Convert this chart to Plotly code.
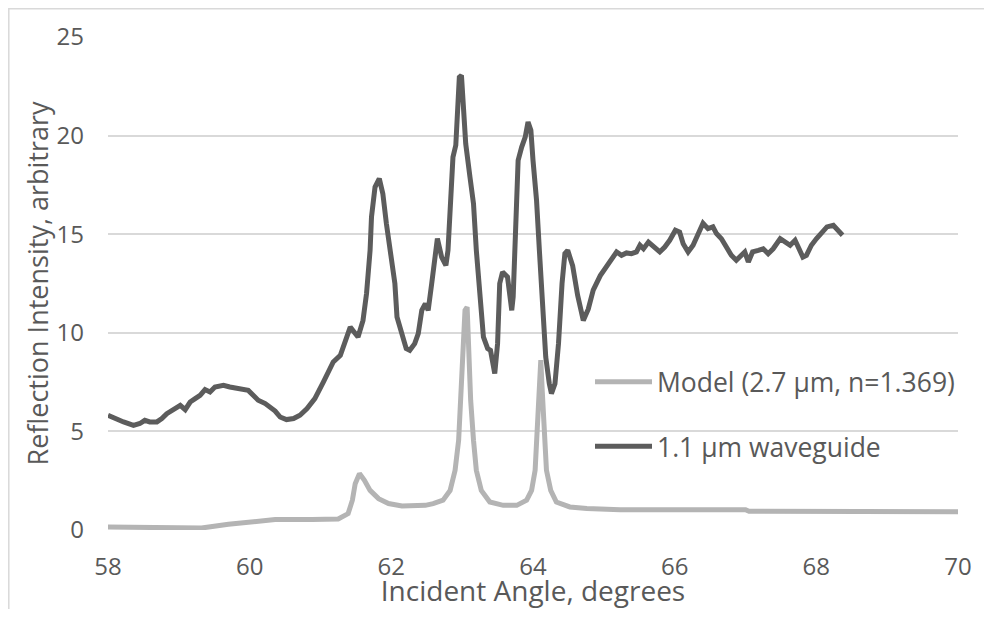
import plotly.graph_objects as go

# Measured waveguide reflection (1.1 µm waveguide)
wg_angle = [58.00, 58.10, 58.22, 58.36, 58.45, 58.52, 58.59, 58.69, 58.76, 58.83,
            58.92, 59.02, 59.09, 59.16, 59.23, 59.30, 59.37, 59.44, 59.51, 59.63,
            59.72, 59.82, 59.91, 59.98, 60.05, 60.12, 60.22, 60.29, 60.36, 60.43,
            60.52, 60.62, 60.71, 60.81, 60.92, 61.04, 61.18, 61.28, 61.42, 61.53,
            61.60, 61.65, 61.70, 61.72, 61.77, 61.83, 61.88, 61.93, 62.00, 62.05,
            62.08, 62.15, 62.21, 62.26, 62.33, 62.38, 62.43, 62.48, 62.52, 62.57,
            62.62, 62.65, 62.71, 62.77, 62.80, 62.83, 62.87, 62.91, 62.93, 62.96,
            62.99, 63.01, 63.05, 63.11, 63.16, 63.20, 63.25, 63.30, 63.36, 63.40,
            63.46, 63.50, 63.53, 63.57, 63.64, 63.70, 63.72, 63.76, 63.79, 63.84,
            63.89, 63.93, 63.97, 64.00, 64.05, 64.09, 64.14, 64.18, 64.23, 64.26,
            64.31, 64.36, 64.41, 64.45, 64.49, 64.56, 64.63, 64.71, 64.78, 64.85,
            64.95, 65.04, 65.11, 65.18, 65.25, 65.32, 65.39, 65.46, 65.51, 65.56,
            65.63, 65.70, 65.79, 65.86, 65.93, 66.01, 66.07, 66.12, 66.19, 66.26,
            66.33, 66.40, 66.47, 66.54, 66.59, 66.66, 66.73, 66.80, 66.87, 66.92,
            66.99, 67.04, 67.10, 67.18, 67.25, 67.32, 67.39, 67.49, 67.56, 67.63,
            67.70, 67.75, 67.81, 67.86, 67.93, 68.00, 68.08, 68.15, 68.24, 68.31,
            68.37]
wg_intensity = [5.82, 5.65, 5.48, 5.31, 5.40, 5.56, 5.48, 5.48, 5.65, 5.90,
                6.07, 6.32, 6.10, 6.49, 6.66, 6.83, 7.12, 7.00, 7.25, 7.34,
                7.25, 7.17, 7.12, 7.08, 6.83, 6.58, 6.41, 6.24, 6.03, 5.73,
                5.60, 5.65, 5.82, 6.16, 6.66, 7.50, 8.52, 8.86, 10.29, 9.79,
                10.63, 11.99, 14.18, 15.87, 17.39, 17.82, 17.06, 15.54, 13.84, 12.50,
                10.80, 9.96, 9.20, 9.11, 9.45, 9.96, 11.14, 11.48, 11.14, 12.50,
                13.84, 14.78, 13.84, 13.42, 14.18, 16.20, 18.91, 19.51, 21.27, 22.96,
                23.05, 21.45, 19.59, 17.90, 16.55, 14.18, 11.65, 9.79, 9.20, 9.11,
                7.93, 9.45, 12.50, 13.08, 12.83, 11.14, 11.82, 15.03, 18.75, 19.42,
                19.92, 20.69, 20.27, 18.75, 16.72, 14.18, 11.14, 8.77, 7.42, 6.92,
                7.42, 9.45, 12.50, 14.02, 14.18, 13.40, 11.90, 10.63, 11.20, 12.16,
                12.90, 13.34, 13.76, 14.10, 13.93, 14.05, 14.01, 14.10, 14.44, 14.26,
                14.60, 14.35, 14.10, 14.35, 14.69, 15.20, 15.11, 14.52, 14.10, 14.44,
                15.03, 15.56, 15.28, 15.37, 15.03, 14.77, 14.35, 13.93, 13.68, 13.84,
                14.10, 13.59, 14.10, 14.18, 14.26, 14.01, 14.26, 14.77, 14.60, 14.44,
                14.69, 14.35, 13.84, 13.93, 14.44, 14.77, 15.11, 15.37, 15.45, 15.20,
                14.95]

# Model curve (2.7 µm, n=1.369)
model_angle = [58.00, 58.52, 59.00, 59.32, 59.70, 60.08, 60.36, 60.88, 61.25, 61.39,
               61.45, 61.49, 61.55, 61.62, 61.70, 61.82, 61.96, 62.15, 62.48, 62.59,
               62.73, 62.83, 62.90, 62.95, 62.98, 63.01, 63.04, 63.07, 63.09, 63.12,
               63.16, 63.20, 63.27, 63.39, 63.58, 63.77, 63.91, 63.98, 64.03, 64.06,
               64.08, 64.11, 64.13, 64.16, 64.19, 64.25, 64.33, 64.52, 64.76, 65.23,
               66.00, 67.00, 67.05, 68.00, 70.00]
model_intensity = [0.15, 0.12, 0.07, 0.10, 0.29, 0.46, 0.53, 0.53, 0.56, 0.83,
                   1.51, 2.35, 2.86, 2.52, 2.01, 1.59, 1.34, 1.22, 1.25, 1.34,
                   1.51, 2.01, 3.03, 4.55, 6.58, 8.77, 11.14, 11.31, 8.77, 6.58,
                   4.55, 3.03, 2.01, 1.42, 1.25, 1.25, 1.51, 2.01, 3.03, 5.06,
                   7.08, 8.61, 7.08, 4.72, 3.03, 2.01, 1.42, 1.17, 1.09, 1.03,
                   1.05, 1.03, 0.95, 0.93, 0.93]

x_ticks = [58, 60, 62, 64, 66, 68, 70]
y_ticks = [0, 5, 10, 15, 20, 25]
x_title = "Incident Angle, degrees"
y_title = "Reflection Intensity, arbitrary"

TEXT = "#595959"
GRID = "#d9d9d9"
FONT = "Open Sans, Segoe UI, sans-serif"

fig = go.Figure()
fig.add_trace(go.Scatter(
    x=model_angle, y=model_intensity, mode="lines",
    name="Model (2.7 µm, n=1.369)", legendgroup="a",
    line=dict(color="#b4b4b4", width=5),
))
fig.add_trace(go.Scatter(
    x=wg_angle, y=wg_intensity, mode="lines",
    name="1.1 µm waveguide", legendgroup="b",
    line=dict(color="#5c5c5c", width=5),
))

# page has an 8px body margin; figure is sized to fit inside the window
OFF = 8
W, H = 992 - 2 * OFF, 617 - 2 * OFF
L, T = 108 - OFF, 37 - OFF
R = W - (958 - OFF)
B = H - (530 - OFF)
pw, ph = W - L - R, H - T - B


def px2x(px):
    return (px - OFF - L) / pw


def py2y(py):
    return (H - B - (py - OFF)) / ph


fig.update_layout(
    width=W, height=H,
    margin=dict(l=L, r=R, t=T, b=B, pad=0, autoexpand=False),
    paper_bgcolor="white", plot_bgcolor="white",
    font=dict(family=FONT, color=TEXT, size=24),
    showlegend=True,
    legend=dict(
        x=px2x(590), y=py2y(358), xanchor="left", yanchor="top",
        bgcolor="rgba(0,0,0,0)", font=dict(size=26.5, color=TEXT, family=FONT),
        tracegroupgap=27, itemwidth=57, traceorder="grouped",
    ),
    xaxis=dict(
        range=[58, 70], tickvals=x_ticks, ticktext=[str(v) for v in x_ticks],
        showgrid=False, zeroline=False, showline=False, automargin=False,
        ticks="", tickfont=dict(size=24, color=TEXT), ticklabelstandoff=20,
        title=dict(text=x_title, font=dict(size=28, color=TEXT), standoff=0),
    ),
    yaxis=dict(
        range=[0, 25], tickvals=y_ticks, ticktext=[str(v) for v in y_ticks],
        showgrid=True, gridcolor=GRID, gridwidth=1.5, zeroline=False, showline=False,
        automargin=False,
        ticks="", tickfont=dict(size=24, color=TEXT), ticklabelstandoff=23,
        title=dict(text=y_title, font=dict(size=27, color=TEXT), standoff=0),
    ),
    shapes=[dict(
        type="rect", xref="paper", yref="paper", layer="below",
        x0=px2x(8.8), x1=px2x(1010), y0=py2y(640), y1=py2y(8.8),
        line=dict(color=GRID, width=1.5), fillcolor="rgba(0,0,0,0)",
    )],
)

fig.write_html("out.html")
